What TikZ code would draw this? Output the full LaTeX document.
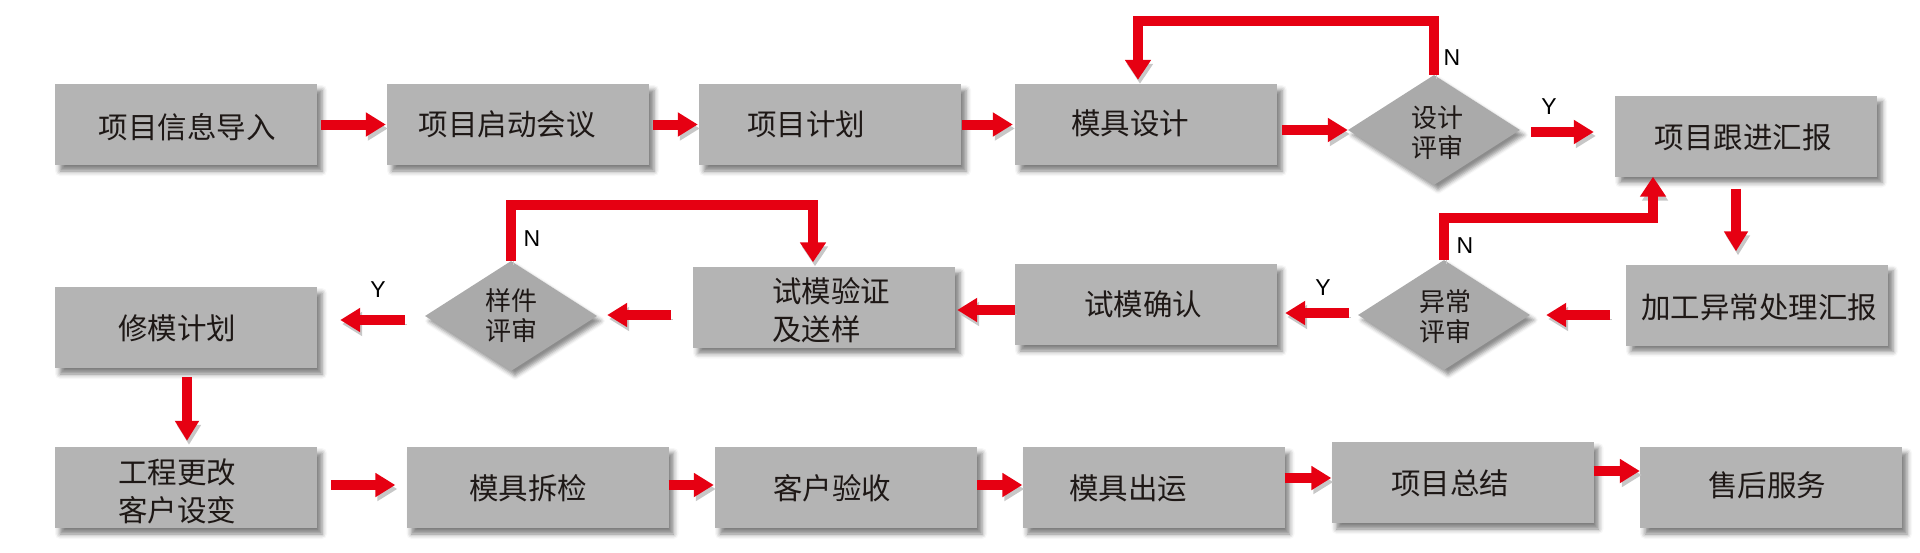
\documentclass[tikz,border=0pt]{standalone}
\usepackage{fontspec}
\setmainfont{Noto Sans CJK SC}
\newfontfamily\latinfont{Liberation Sans}
\usetikzlibrary{arrows.meta,shapes.geometric,calc,shadows.blur}
\definecolor{boxgray}{RGB}{180,180,180}
\definecolor{dgray}{RGB}{170,170,170}
\definecolor{arred}{RGB}{230,0,18}
\definecolor{txtc}{RGB}{30,24,22}
\begin{document}
\begin{tikzpicture}[x=1pt,y=-1pt,
  box/.style={rectangle, fill=boxgray, minimum width=262pt, minimum height=81pt, inner sep=0pt,
    blur shadow={shadow xshift=5pt, shadow yshift=-6pt, shadow blur radius=5pt, shadow opacity=50}},
  dia/.style={diamond, fill=dgray, minimum width=172pt, minimum height=110pt, inner sep=0pt,
    blur shadow={shadow xshift=4pt, shadow yshift=-5pt, shadow blur radius=4pt, shadow opacity=45}},
  txt/.style={text=txtc, font=\fontsize{29.5}{38}\selectfont, inner sep=0pt, align=center},
  dtxt/.style={text=txtc, font=\fontsize{26}{30}\selectfont, inner sep=0pt, align=center},
  yn/.style={text=black, font=\latinfont\fontsize{23}{23}\selectfont, inner sep=0pt},
  arrsh/.style={preaction={draw=black!22, transform canvas={shift={(2pt,-4pt)}}}},
  arr/.style={draw=arred, line width=10pt, -{Triangle[width=23pt,length=20pt]}, arrsh},
  loopline/.style={draw=arred, line width=10pt, line join=miter, -{Triangle[width=25pt,length=20pt]}, arrsh},
]
\useasboundingbox (0,0) rectangle (1920,552);

% ---------- row 1 ----------
\node[box] (b1) at (186,124.5) {};
\node[box] (b2) at (518,124.5) {};
\node[box] (b3) at (830,124.5) {};
\node[box] (b4) at (1146,124.5) {};
\node[dia] (d1) at (1434,130) {};
\node[box] (b5) at (1746,136) {};
% ---------- row 2 ----------
\node[box] (b6) at (1757,305) {};
\node[dia] (d2) at (1444,315) {};
\node[box] (b7) at (1146,304.5) {};
\node[box] (b8) at (824,307) {};
\node[dia] (d3) at (511,316) {};
\node[box] (b9) at (186,327.5) {};
% ---------- row 3 ----------
\node[box] (b10) at (186,487.5) {};
\node[box] (b11) at (537.5,487.5) {};
\node[box] (b12) at (846,487.5) {};
\node[box] (b13) at (1153.5,487.5) {};
\node[box] (b14) at (1462.5,482.5) {};
\node[box] (b15) at (1771,487.5) {};

% ---------- texts ----------
\node[txt] (t1) at (187,127) {项目信息导入};
\node[txt] (t2) at (507,124) {项目启动会议};
\node[txt] (t3) at (806,124) {项目计划};
\node[txt] (t4) at (1130,123) {模具设计};
\node[dtxt] (td1) at (1437,133) {设计\\评审};
\node[txt] (t5) at (1743,137) {项目跟进汇报};
\node[txt] (t6) at (1759,307) {加工异常处理汇报};
\node[dtxt] (td2) at (1445,317) {异常\\评审};
\node[txt] (t7) at (1143,304) {试模确认};
\node[txt, align=left] (t8) at (831,310) {试模验证\\及送样};
\node[dtxt] (td3) at (511,316) {样件\\评审};
\node[txt] (t9) at (177,328) {修模计划};
\node[txt] (t10) at (177,491) {工程更改\\客户设变};
\node[txt] (t11) at (528,488) {模具拆检};
\node[txt] (t12) at (832,488) {客户验收};
\node[txt] (t13) at (1128,488) {模具出运};
\node[txt] (t14) at (1450,483) {项目总结};
\node[txt] (t15) at (1767,485) {售后服务};

% ---------- straight arrows ----------
\draw[arr] ($(b1.east)+(4pt,0)$) -- ($(b2.west)+(-1pt,0)$);
\draw[arr] ($(b2.east)+(4pt,0)$) -- ($(b3.west)+(-1pt,0)$);
\draw[arr] ($(b3.east)+(1pt,0)$) -- ($(b4.west)+(-2pt,0)$);
\draw[arr] ($(b4.east|-d1.west)+(5pt,0)$) -- (d1.west);
\draw[arr] ($(d1.east)+(11pt,-2pt)$) -- ($(b5.west|-d1.east)+(-21pt,-2pt)$);
\draw[arr] ($(b5.south)+(-10pt,-12pt)$) -- ($(b6.north-|b5.south)+(-10pt,13pt)$);
\draw[arr] ($(b6.west|-d2.east)+(-16pt,0)$) -- ($(d2.east)+(16pt,0)$);
\draw[arr] ($(d2.west)+(-9pt,2pt)$) -- ($(b7.east|-d2.west)+(8pt,2pt)$);
\draw[arr] ($(b7.west)+(0,-5.5pt)$) -- ($(b8.east|-b7.west)+(2pt,-5.5pt)$);
\draw[arr] ($(b8.west|-d3.east)+(-22pt,1pt)$) -- ($(d3.east)+(10pt,1pt)$);
\draw[arr] ($(d3.west)+(-20pt,-4pt)$) -- ($(b9.east|-d3.west)+(23pt,-4pt)$);
\draw[arr] ($(b9.south)+(1pt,-9pt)$) -- ($(b10.north-|b9.south)+(1pt,6pt)$);
\draw[arr] ($(b10.east)+(14pt,2.5pt)$) -- ($(b11.west)+(-11pt,2.5pt)$);
\draw[arr] ($(b11.east)+(0,2.5pt)$) -- ($(b12.west)+(-1pt,2.5pt)$);
\draw[arr] ($(b12.east)+(0,2.5pt)$) -- ($(b13.west)+(0,2.5pt)$);
\draw[arr] ($(b13.east)+(0,9.5pt)$) -- ($(b14.west)+(0,4.5pt)$);
\draw[arr] ($(b14.east)+(0,11.5pt)$) -- ($(b15.west|-b14.east)+(0,11.5pt)$);

% ---------- loops ----------
\coordinate (c1) at (1138,20.5);
\coordinate (c2) at (1653,217.5);
\coordinate (c3) at (813,205);
\draw[loopline] (d1.north) |- (c1) -- ($(c1|-b4.north)+(0,4pt)$);
\draw[loopline] (d2.north) |- (c2) -- (c2|-b5.south);
\draw[loopline] (d3.north) |- (c3) -- ($(c3|-b8.north)+(0,4pt)$);

% ---------- Y / N ----------
\node[yn] (n1) at (1452,58) {N};
\node[yn] (y1) at (1549,107) {Y};
\node[yn] (n2) at (1465,246) {N};
\node[yn] (y2) at (1323,288) {Y};
\node[yn] (n3) at (532,239) {N};
\node[yn] (y3) at (378,290) {Y};
\end{tikzpicture}
\end{document}
